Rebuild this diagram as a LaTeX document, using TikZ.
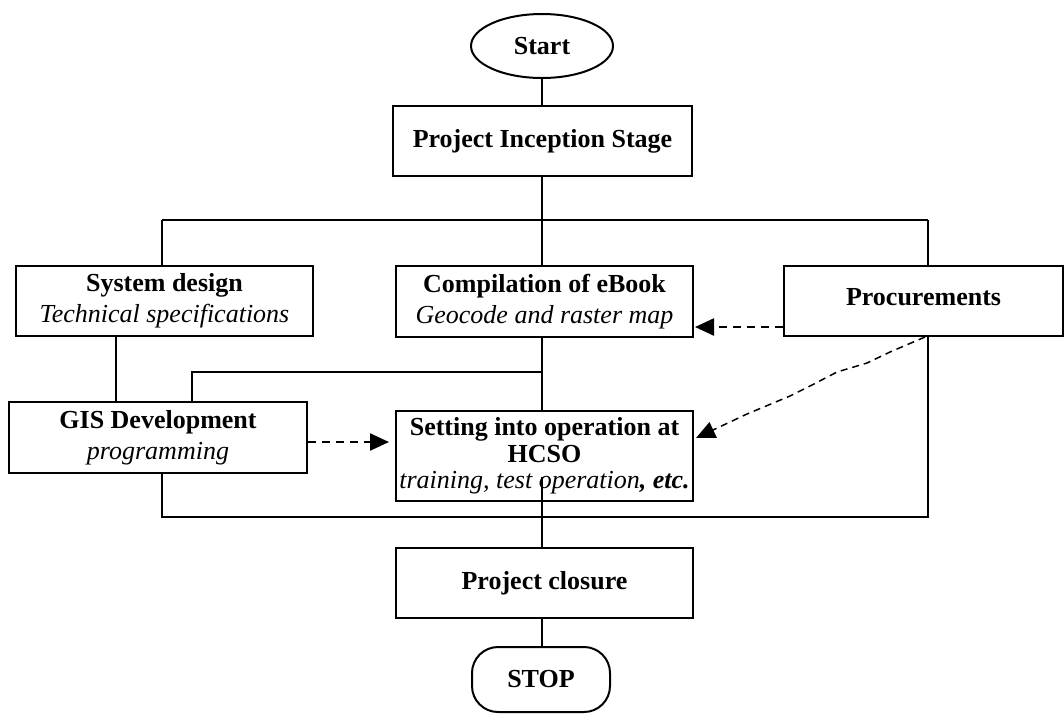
\documentclass[tikz,border=0pt]{standalone}
\usepackage{fontspec}
\setmainfont{Liberation Serif}
\usetikzlibrary{arrows.meta,shapes.geometric}
\begin{document}
\begin{tikzpicture}[x=1pt,y=-1pt,
  every node/.style={font=\fontsize{26}{31}\selectfont},
  box/.style={draw, line width=2pt, inner sep=0pt, align=center, anchor=center},
  link/.style={line width=2pt},
  feed/.style={line width=2.4pt, dash pattern=on 8pt off 6pt,
               -{Triangle[length=19pt,width=17pt]}},
  drift/.style={line width=1.5pt, dash pattern=on 7pt off 5pt,
               -{Triangle[length=19pt,width=17pt]}}
]
\useasboundingbox (0,0) rectangle (1064,713);

% terminals and process boxes
\node[box, ellipse, minimum width=142pt, minimum height=64pt] (start) at (542,46) {\textbf{Start}};
\node[box, minimum width=299pt, minimum height=70pt] (incep) at (542.5,141) {\textbf{Project Inception Stage}};
\node[box, minimum width=297pt, minimum height=70pt] (sys) at (164.5,301)
  {\textbf{System design}\\\textit{Technical specifications}};
\node[box, minimum width=297pt, minimum height=71pt] (comp) at (544.5,301.5)
  {\textbf{Compilation of eBook}\\\textit{Geocode and raster map}};
\node[box, minimum width=279pt, minimum height=70pt] (proc) at (923.5,301)
  {\raisebox{8pt}{\textbf{Procurements}}};
\node[box, minimum width=298pt, minimum height=71pt] (gis) at (158,437.5)
  {\textbf{GIS Development}\\\textit{programming}};
\node[box, minimum width=297pt, minimum height=90pt, font=\fontsize{26}{26.5}\selectfont] (set) at (544.5,456)
  {\raisebox{-3pt}{\textbf{Setting into operation at}}\\\raisebox{-3pt}{\textbf{HCSO}}\\\raisebox{-3pt}{\textit{training, test operation}\textbf{\textit{, etc.}}}};
\node[box, minimum width=297pt, minimum height=70pt] (close) at (544.5,583) {\textbf{Project closure}};
\node[box, minimum width=138pt, minimum height=65pt, rounded corners=26pt] (stop) at (541,679.5) {\textbf{STOP}};

% junction points of the connector network
\coordinate (spine) at (542,0);
\coordinate (hubL) at (162,220);
\coordinate (hubR) at (928,220);
\coordinate (sysdrop) at (116,0);
\coordinate (gisTap) at (192,372);
\coordinate (loopL) at (162,517);
\coordinate (loopR) at (928,517);
\coordinate (midSet) at (542,477);
\coordinate (rowA) at (0,327);
\coordinate (rowB) at (0,442);
\coordinate (rowC) at (0,438);
\coordinate (procFoot) at (925,337);

% solid connectors
\draw[link] (start) -- (spine |- incep.north);
\draw[link] (spine |- incep.south) -- (spine |- comp.north);
\draw[link] (hubL) -- (hubR);
\draw[link] (hubL) -- (hubL |- sys.north);
\draw[link] (hubR) -- (hubR |- proc.north);
\draw[link] (sysdrop |- sys.south) -- (sysdrop |- gis.north);
\draw[link] (gisTap |- gis.north) -- (gisTap) -- (spine |- gisTap);
\draw[link] (spine |- comp.south) -- (spine |- set.north);
\draw[link] (loopL |- gis.south) -- (loopL) -- (loopR) -- (loopR |- proc.south);
\draw[link] (midSet) -- (spine |- close.north);
\draw[link] (spine |- close.south) -- (spine |- stop.north);

% dashed dependency arrows
\draw[feed] (proc.west |- rowA) -- ([xshift=1pt]comp.east |- rowA);
\draw[feed] (gis.east |- rowB) -- ([xshift=-6pt]set.west |- rowB);
\draw[drift] (procFoot) -- (890,352) -- (867,363) -- (837,372) -- (812,385)
  -- (790,396) -- (747,414) -- ([xshift=2pt]set.east |- rowC);
\end{tikzpicture}
\end{document}
